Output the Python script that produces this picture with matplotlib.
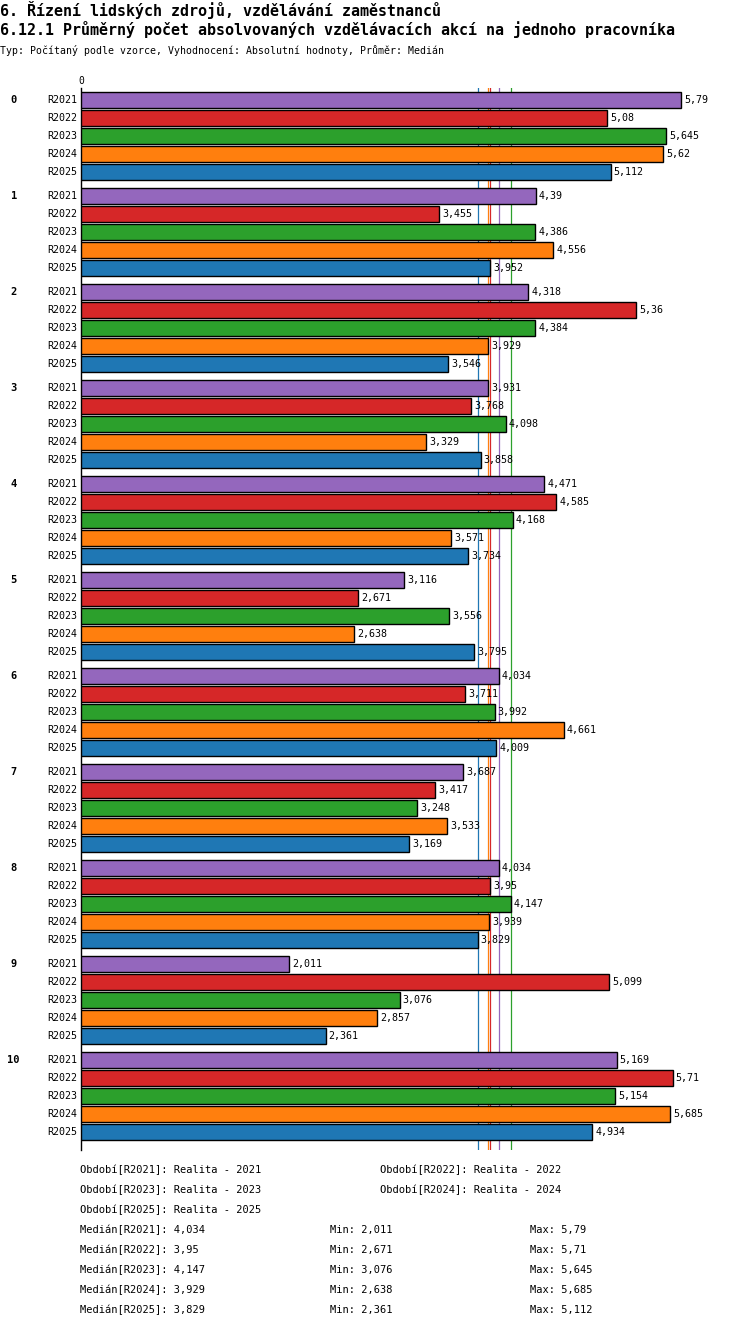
import numpy as np
import matplotlib.pyplot as plt

plt.rcParams['font.family'] = ['DejaVu Sans Mono']

groups = ["0", "1", "2", "3", "4", "5", "6", "7", "8", "9", "10"]
series = ["R2021", "R2022", "R2023", "R2024", "R2025"]
periods = ["Realita - 2021", "Realita - 2022", "Realita - 2023",
           "Realita - 2024", "Realita - 2025"]
r2021 = [5.79, 4.39, 4.318, 3.931, 4.471, 3.116, 4.034, 3.687, 4.034, 2.011, 5.169]
r2022 = [5.08, 3.455, 5.36, 3.768, 4.585, 2.671, 3.711, 3.417, 3.95, 5.099, 5.71]
r2023 = [5.645, 4.386, 4.384, 4.098, 4.168, 3.556, 3.992, 3.248, 4.147, 3.076, 5.154]
r2024 = [5.62, 4.556, 3.929, 3.329, 3.571, 2.638, 4.661, 3.533, 3.939, 2.857, 5.685]
r2025 = [5.112, 3.952, 3.546, 3.858, 3.734, 3.795, 4.009, 3.169, 3.829, 2.361, 4.934]
values = [r2021, r2022, r2023, r2024, r2025]
colors = ["#9467bd", "#d62728", "#2ca02c", "#ff7f0e", "#1f77b4"]


def fmt(v):
    return f"{v:g}".replace(".", ",")


W, H = 750, 1328
fig = plt.figure(figsize=(W / 100, H / 100), dpi=100)

# axes in pixel layout: x from 81 to 730, y from 88 to 1150
ax = fig.add_axes([81 / W, 1 - 1150 / H, (730 - 81) / W, (1150 - 88) / H])
ax.set_xlim(0, 649 / 103.6)
ax.set_ylim(1050, -12)

row, gstep = 18, 96
for si, (name, vals, c) in enumerate(zip(series, values, colors)):
    ys = [gi * gstep + si * row for gi in range(len(groups))]
    ax.barh(ys, vals, height=16, color=c, edgecolor="black", linewidth=1, zorder=3)
    for y, v in zip(ys, vals):
        ax.text(v + 0.03, y, fmt(v), va="center", ha="left", fontsize=7.2, zorder=4)
        ax.text(-0.04, y, name, va="center", ha="right", fontsize=7.2)
    # median line per series
    ax.axvline(np.median(vals), color=c, linewidth=0.9, zorder=1)

for gi, g in enumerate(groups):
    ax.text(-0.65, gi * gstep, g, va="center", ha="center", fontsize=7.5,
            fontweight="bold")

for s in ["top", "right", "bottom"]:
    ax.spines[s].set_visible(False)
ax.spines["left"].set_linewidth(1)
ax.set_xticks([])
ax.set_yticks([])
ax.text(0, -14, "0", ha="center", va="bottom", fontsize=7)

# titles
fig.text(0 / W, 1 - 10 / H, "6. Řízení lidských zdrojů, vzdělávání zaměstnanců",
         fontsize=10.8, fontweight="bold", va="center", ha="left")
fig.text(0 / W, 1 - 30 / H, "6.12.1 Průměrný počet absolvovaných vzdělávacích akcí na jednoho pracovníka",
         fontsize=10.8, fontweight="bold", va="center", ha="left")
fig.text(0 / W, 1 - 50 / H, "Typ: Počítaný podle vzorce, Vyhodnocení: Absolutní hodnoty, Průměr: Medián",
         fontsize=7.1, va="center", ha="left")

# legend block
leg_pos = [(80, 1170), (380, 1170), (80, 1190), (380, 1190), (80, 1210)]
for (x, y), name, p in zip(leg_pos, series, periods):
    fig.text(x / W, 1 - y / H, f"Období[{name}]: {p}", fontsize=7.5,
             va="center", ha="left")

for i, (name, vals) in enumerate(zip(series, values)):
    y = 1 - (1230 + i * 20) / H
    fig.text(80 / W, y, f"Medián[{name}]: {fmt(np.median(vals))}", fontsize=7.5,
             va="center", ha="left")
    fig.text(330 / W, y, f"Min: {fmt(min(vals))}", fontsize=7.5, va="center", ha="left")
    fig.text(530 / W, y, f"Max: {fmt(max(vals))}", fontsize=7.5, va="center", ha="left")

fig.savefig("out.png", dpi=100)
